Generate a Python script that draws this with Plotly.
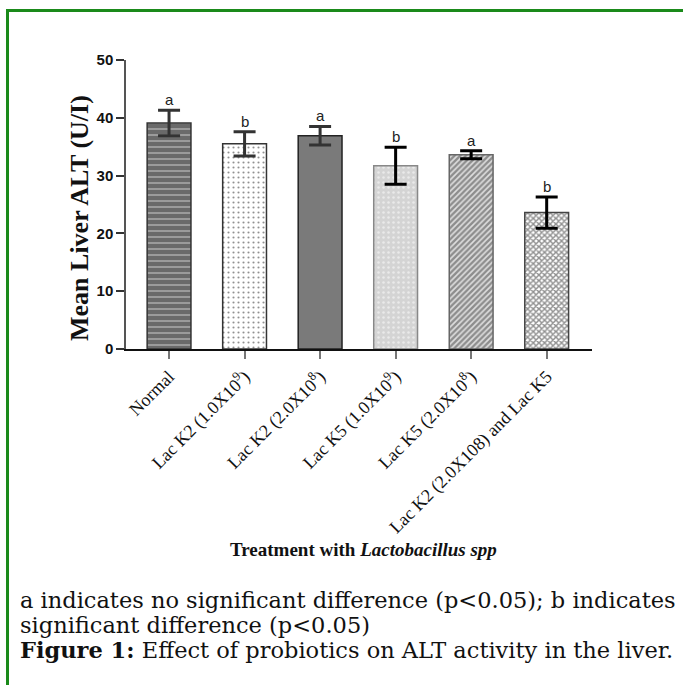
import plotly.graph_objects as go

# Treatment groups and measured liver ALT (mean ± SD)
categories = [
    "Normal",
    "Lac K2 (1.0X10<sup>9</sup>)",
    "Lac K2 (2.0X10<sup>8</sup>)",
    "Lac K5 (1.0X10<sup>9</sup>)",
    "Lac K5 (2.0X10<sup>8</sup>)",
    "Lac K2 (2.0X108) and Lac K5",
]
alt_mean = [39.1, 35.5, 36.9, 31.7, 33.6, 23.6]
alt_err = [2.2, 2.1, 1.6, 3.2, 0.7, 2.7]
sig_letters = ["a", "b", "a", "b", "a", "b"]

# Per-bar fill styles (background, pattern shape, pattern colour)
bar_bg = ["#6a6a6a", "#ffffff", "#7a7a7a", "#d4d4d4", "#dedede", "#ffffff"]
bar_shape = ["-", ".", "", ".", "/", "x"]
bar_fg = ["#ffffff", "#222222", "#7a7a7a", "#ffffff", "#3c3c3c", "#222222"]
bar_size = [6, 5, 6, 5, 4, 4]
bar_solidity = [0.22, 0.14, 0.3, 0.2, 0.6, 0.6]
bar_edge = ["#333333", "#333333", "#222222", "#888888", "#666666", "#444444"]
err_color = ["#333333", "#333333", "#333333", "#000000", "#000000", "#000000"]

W, H = 683, 685
ML, MR, MT, MB = 126, 91, 60, 336
PW, PH = W - ML - MR, H - MT - MB


def px(x):
    return (x - ML) / PW


def py(y):
    return (H - MB - y) / PH


fig = go.Figure()
for i, cat in enumerate(categories):
    fig.add_trace(go.Bar(
        x=[cat], y=[alt_mean[i]], width=0.58,
        marker=dict(
            color=bar_bg[i],
            line=dict(color=bar_edge[i], width=1.5),
            pattern=dict(shape=bar_shape[i], fgcolor=bar_fg[i],
                         size=bar_size[i], solidity=bar_solidity[i],
                         fillmode="overlay"),
        ),
        error_y=dict(type="data", array=[alt_err[i]], visible=True,
                     color=err_color[i], thickness=3, width=11),
        showlegend=False, hoverinfo="skip",
    ))
    fig.add_annotation(
        x=cat, y=alt_mean[i] + alt_err[i], text=sig_letters[i],
        showarrow=False, yanchor="bottom", yshift=0,
        font=dict(family="Liberation Sans, Arial", size=15, color="#222"),
    )

fig.update_layout(
    width=W, height=H, barmode="overlay",
    margin=dict(l=ML, r=MR, t=MT, b=MB, autoexpand=False),
    paper_bgcolor="white", plot_bgcolor="white",
    xaxis=dict(
        type="category", range=[-0.57, 5.6],
        showline=True, linecolor="#111", linewidth=2,
        ticks="outside", ticklen=8, tickwidth=1.5, tickcolor="#777",
        tickangle=-45, showgrid=False, zeroline=False,
        tickfont=dict(family="Liberation Serif, Times New Roman", size=18, color="#111"),
    ),
    yaxis=dict(
        range=[0, 50], dtick=10, tick0=0,
        showline=True, linecolor="#555", linewidth=1.5,
        ticks="outside", ticklen=8, tickwidth=1.5, tickcolor="#333",
        showgrid=False, zeroline=False,
        tickfont=dict(family="Liberation Sans, Arial", size=15, color="#111",
                      weight="bold"),
    ),
)

# Axis titles
fig.add_annotation(
    xref="paper", yref="paper", x=px(80), y=py(218),
    xanchor="center", yanchor="middle",
    text="<b>Mean Liver ALT (U/I)</b>", textangle=-90, showarrow=False,
    font=dict(family="Liberation Serif, Times New Roman", size=26, color="#111"),
)
fig.add_annotation(
    xref="paper", yref="paper", x=px(363), y=py(549),
    xanchor="center", yanchor="middle",
    text="<b>Treatment with <i>Lactobacillus spp</i></b>", showarrow=False,
    font=dict(family="Liberation Serif, Times New Roman", size=19, color="#111"),
)

# Caption beneath the figure
caption_font = dict(family="DejaVu Serif", size=22.5, color="#111")
caption_lines = [
    "a indicates no significant difference (p<0.05); b indicates",
    "significant difference (p<0.05)",
    "<b>Figure 1:</b> Effect of probiotics on ALT activity in the liver.",
]
for k, line in enumerate(caption_lines):
    fig.add_annotation(
        xref="paper", yref="paper", x=px(18), y=py(600 + 25 * k),
        xanchor="left", yanchor="middle",
        text=line, showarrow=False, font=caption_font,
    )

# Green frame along the top and left edges
frame = dict(color="#1a8a1a", width=3)
fig.add_shape(type="line", xref="paper", yref="paper",
              x0=px(7.5), x1=px(W + 5), y0=py(10.5), y1=py(10.5), line=frame)
fig.add_shape(type="line", xref="paper", yref="paper",
              x0=px(7.5), x1=px(7.5), y0=py(9), y1=py(H + 5), line=frame)

fig.write_html("out.html")
